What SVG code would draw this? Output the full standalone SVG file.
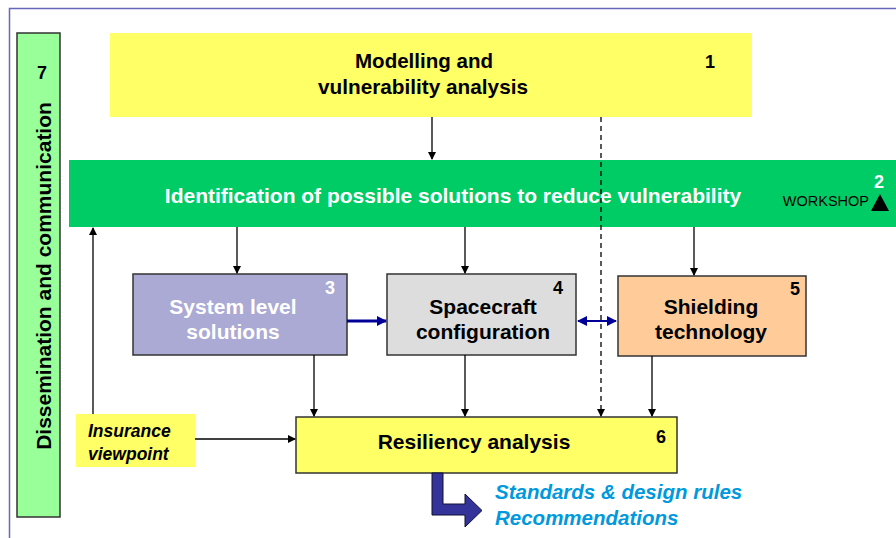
<svg xmlns="http://www.w3.org/2000/svg" width="896" height="538" viewBox="0 0 896 538">
<defs>
<style>
text{font-family:"Liberation Sans",Arial,sans-serif;font-weight:bold}
.t{font-size:21px;text-anchor:middle}
.n{font-size:18px;text-anchor:middle}
.w{font-size:14.5px;font-weight:normal}
.i{font-size:17.5px;font-style:italic}
.o{font-size:20.5px;font-style:italic;fill:#0099dd}
.box{stroke:#333;stroke-width:1.5}
.c{stroke:#000;stroke-width:1.3;fill:none}
.b{stroke:#000099;fill:none}
</style>
<marker id="ah" markerWidth="8" markerHeight="8" refX="7" refY="4" orient="auto" markerUnits="userSpaceOnUse"><path d="M0,0 L8,4 L0,8 Z" fill="#000"/></marker>
<marker id="bh" markerWidth="10" markerHeight="10" refX="9" refY="5" orient="auto-start-reverse" markerUnits="userSpaceOnUse"><path d="M0,0 L10,5 L0,10 Z" fill="#000099"/></marker>
</defs>
<rect width="896" height="538" fill="#fff"/>
<path d="M9.5,538 V8.5 H896" stroke="#6666bb" stroke-width="1.5" fill="none"/>

<g id="n7">
<rect x="17" y="33" width="43" height="484" fill="#99ff99" class="box"/>
<text x="42" y="79" class="n">7</text>
<text transform="translate(51,276) rotate(-90)" class="t">Dissemination and communication</text>
</g>

<g id="n1">
<rect x="110" y="33" width="642" height="84" fill="#ffff66"/>
<text x="424" y="68" class="t" font-size="22" textLength="138" lengthAdjust="spacingAndGlyphs">Modelling and</text>
<text x="423" y="94" class="t" font-size="22" textLength="210" lengthAdjust="spacingAndGlyphs">vulnerability analysis</text>
<text x="710" y="68" class="n">1</text>
</g>

<g id="n2">
<rect x="69" y="160" width="827" height="67" fill="#00cc66"/>
<text x="453" y="203" class="t" fill="#fff">Identification of possible solutions to reduce vulnerability</text>
<text x="879" y="188" class="n" fill="#fff">2</text>
<text x="869" y="206" class="w" text-anchor="end">WORKSHOP</text>
<path d="M871,211 L880,194 L889,211 Z" fill="#000"/>
</g>

<g id="n3">
<rect x="133" y="274" width="214" height="81" fill="#aaaad4" class="box"/>
<text x="233" y="314" class="t" fill="#fff">System level</text>
<text x="233" y="339" class="t" fill="#fff">solutions</text>
<text x="330" y="294" class="n" fill="#fff">3</text>
</g>

<g id="n4">
<rect x="387" y="274" width="189" height="81" fill="#dddddd" class="box"/>
<text x="483" y="314" class="t">Spacecraft</text>
<text x="483" y="339" class="t">configuration</text>
<text x="558" y="294" class="n">4</text>
</g>

<g id="n5">
<rect x="618" y="276" width="188" height="80" fill="#ffcc99" class="box"/>
<text x="711" y="314" class="t">Shielding</text>
<text x="711" y="339" class="t">technology</text>
<text x="795" y="295" class="n">5</text>
</g>

<g id="n6">
<rect x="296" y="417" width="381" height="56" fill="#ffff66" class="box"/>
<text x="474" y="449" class="t">Resiliency analysis</text>
<text x="661" y="443" class="n">6</text>
</g>

<g id="ins">
<rect x="76" y="414" width="119" height="53" fill="#ffff66"/>
<text x="88" y="437" class="i">Insurance</text>
<text x="88" y="460" class="i">viewpoint</text>
</g>

<g id="out">
<path d="M432,473 H443 V504 H465 V494 L482,510.5 L465,527 V515 H432 Z" fill="#333399" stroke="#111133" stroke-width="1"/>
<text x="495" y="499" class="o">Standards &amp; design rules</text>
<text x="495" y="525" class="o">Recommendations</text>
</g>

<g id="connectors">
<line x1="432" y1="117" x2="432" y2="159" class="c" marker-end="url(#ah)"/>
<line x1="601" y1="117" x2="601" y2="416" class="c" stroke-dasharray="5,4" marker-end="url(#ah)"/>
<line x1="237" y1="227" x2="237" y2="273" class="c" marker-end="url(#ah)"/>
<line x1="465" y1="227" x2="465" y2="273" class="c" marker-end="url(#ah)"/>
<line x1="694" y1="227" x2="694" y2="275" class="c" marker-end="url(#ah)"/>
<line x1="347" y1="321" x2="386" y2="321" class="b" stroke-width="3" marker-end="url(#bh)"/>
<line x1="578" y1="321" x2="616" y2="321" class="b" stroke-width="2" marker-start="url(#bh)" marker-end="url(#bh)"/>
<line x1="314" y1="355" x2="314" y2="416" class="c" marker-end="url(#ah)"/>
<line x1="465" y1="355" x2="465" y2="416" class="c" marker-end="url(#ah)"/>
<line x1="652" y1="356" x2="652" y2="416" class="c" marker-end="url(#ah)"/>
<line x1="195" y1="439" x2="295" y2="439" class="c" marker-end="url(#ah)"/>
<line x1="93" y1="414" x2="93" y2="228" class="c" marker-end="url(#ah)"/>
</g>
</svg>
